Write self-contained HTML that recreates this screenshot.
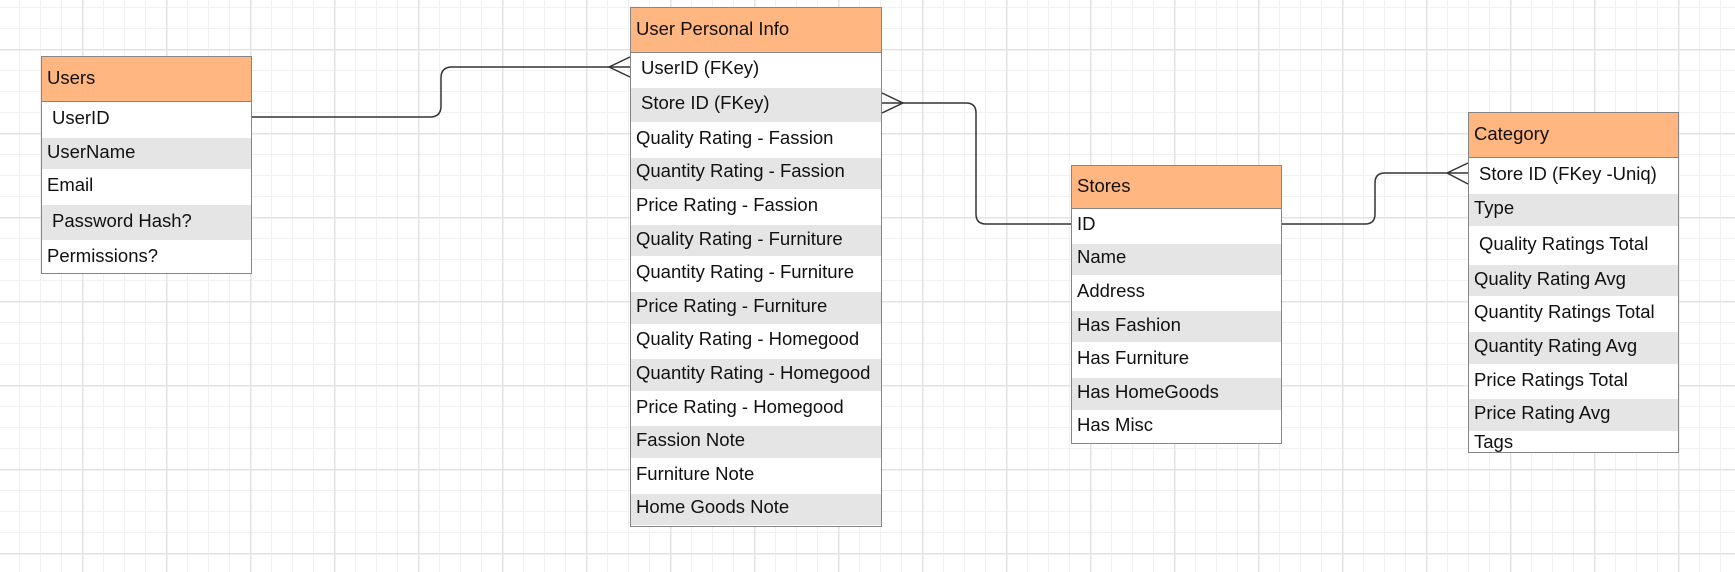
<!DOCTYPE html>
<html><head><meta charset="utf-8"><style>
html,body{margin:0;padding:0}
body{width:1735px;height:572px;position:relative;overflow:hidden;background-color:#fff;
background-image:
linear-gradient(to right,#e3e3e3 0,#e3e3e3 1.5px,transparent 1.5px),
linear-gradient(to bottom,#e3e3e3 0,#e3e3e3 1.5px,transparent 1.5px),
linear-gradient(to right,#f0f0f0 0,#f0f0f0 1px,transparent 1px),
linear-gradient(to bottom,#f0f0f0 0,#f0f0f0 1px,transparent 1px);
background-size:84px 84px,84px 84px,21px 21px,21px 21px;
background-position:82px 0,0 49px,19px 0,0 7px;
font-family:"Liberation Sans",Arial,sans-serif;color:#111}
.t{position:absolute;border:1.5px solid #858585;box-sizing:border-box;background:#fff;overflow:hidden}
.h{background:#ffb681;border-bottom:1.5px solid #858585;box-sizing:border-box;font-size:18.5px;display:flex;align-items:center;padding-left:5px;padding-bottom:3px}
.r{font-size:18.5px;display:flex;align-items:center;padding-left:5px;padding-bottom:4px;box-sizing:border-box;white-space:nowrap}
.g{background:#e5e5e5;border-top:1px solid #fff;border-bottom:1px solid #fff}
.i{padding-left:10px}
svg{position:absolute;left:0;top:0}
</style></head><body>

<div class="t" style="left:41px;top:56px;width:211px;height:218px">
<div class="h" style="height:45px">Users</div>
<div class="r i" style="height:35px">UserID</div>
<div class="r g" style="height:33px">UserName</div>
<div class="r" style="height:34px">Email</div>
<div class="r g i" style="height:37px">Password Hash?</div>
<div class="r" style="height:33px">Permissions?</div>
</div>

<div class="t" style="left:630px;top:7px;width:252px;height:520px">
<div class="h" style="height:45px">User Personal Info</div>
<div class="r i" style="height:34px">UserID (FKey)</div>
<div class="r g i" style="height:36px">Store ID (FKey)</div>
<div class="r" style="height:33.6px">Quality Rating - Fassion</div>
<div class="r g" style="height:33.6px">Quantity Rating - Fassion</div>
<div class="r" style="height:33.6px">Price Rating - Fassion</div>
<div class="r g" style="height:33.6px">Quality Rating - Furniture</div>
<div class="r" style="height:33.6px">Quantity Rating - Furniture</div>
<div class="r g" style="height:33.6px">Price Rating - Furniture</div>
<div class="r" style="height:33.6px">Quality Rating - Homegood</div>
<div class="r g" style="height:33.6px">Quantity Rating - Homegood</div>
<div class="r" style="height:33.6px">Price Rating - Homegood</div>
<div class="r g" style="height:33.6px">Fassion Note</div>
<div class="r" style="height:33.6px">Furniture Note</div>
<div class="r g" style="height:33.6px">Home Goods Note</div>
</div>

<div class="t" style="left:1071px;top:165px;width:211px;height:279px">
<div class="h" style="height:43px">Stores</div>
<div class="r" style="height:33.6px">ID</div>
<div class="r g" style="height:33.6px">Name</div>
<div class="r" style="height:33.6px">Address</div>
<div class="r g" style="height:33.6px">Has Fashion</div>
<div class="r" style="height:33.6px">Has Furniture</div>
<div class="r g" style="height:33.6px">Has HomeGoods</div>
<div class="r" style="height:33.6px">Has Misc</div>
</div>

<div class="t" style="left:1468px;top:112px;width:211px;height:341px">
<div class="h" style="height:45px">Category</div>
<div class="r i" style="height:35px">Store ID (FKey -Uniq)</div>
<div class="r g" style="height:34px">Type</div>
<div class="r i" style="height:37px">Quality Ratings Total</div>
<div class="r g" style="height:33px">Quality Rating Avg</div>
<div class="r" style="height:34px">Quantity Ratings Total</div>
<div class="r g" style="height:34px">Quantity Rating Avg</div>
<div class="r" style="height:33px">Price Ratings Total</div>
<div class="r g" style="height:34px">Price Rating Avg</div>
<div class="r" style="height:21px;align-items:flex-end;padding-bottom:0">Tags</div>
</div>

<svg width="1735" height="572" viewBox="0 0 1735 572" fill="none" stroke="#333" stroke-width="1.5">
<path d="M252 117 H430 Q441 117 441 106 V78 Q441 67 452 67 H630"/>
<path d="M609 67 L630 57 M609 67 L630 77"/>
<path d="M882 103 H966 Q976 103 976 113 V214 Q976 224 986 224 H1071"/>
<path d="M903 103 L882 93 M903 103 L882 113"/>
<path d="M1282 224 H1365 Q1375 224 1375 214 V183 Q1375 173 1385 173 H1468"/>
<path d="M1447 173 L1468 163 M1447 173 L1468 184"/>
</svg>
</body></html>
